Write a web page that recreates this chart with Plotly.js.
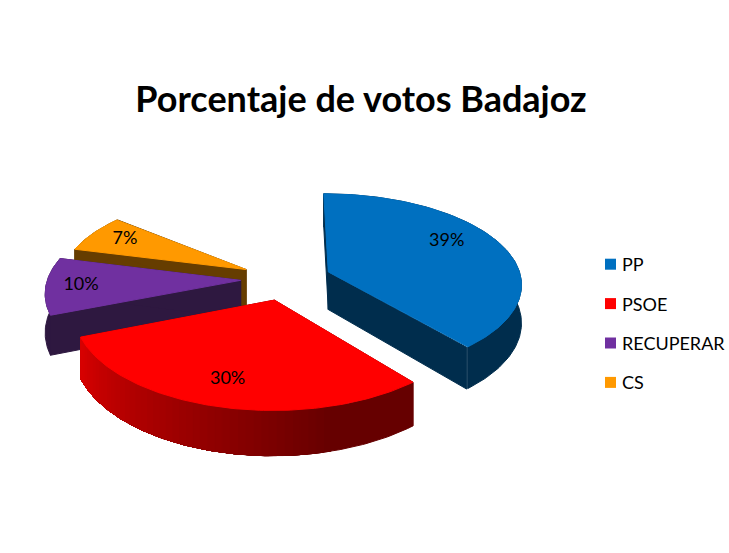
<!DOCTYPE html>
<html><head><meta charset="utf-8">
<script src="https://cdn.plot.ly/plotly-3.0.1.min.js"></script>
<style>html,body{margin:0;padding:0;background:#fff}#chart{width:729px;height:553px}</style>
</head><body><div id="chart"></div>
<script>
const categories = ["PP","PSOE","RECUPERAR","CS"];
const values = [39,30,10,7];           // percent of the whole; the remaining share is not drawn
const topColors = ["#0070c0","#ff0000","#7030a0","#ff9900"];
const wallColors = ["#002d4d","#660000","#2e1840","#663d00"];
const wallLight = ["#002d4d","#d80000","#2e1840","#663d00"];
const sliceReach = [1,1,1,0.96];
const labelAngle = [61,195.5,266,298];
const labelReach = [0.75,0.78,0.82,0.76];

// oblique projection of the pie's ground plane into the plot's axis units
const CX=286, CY=279, F=193, A=90, PX=0.12, PY=0.13, PULL=0.235, DEPTH=38, START=0;
const rad=d=>d*Math.PI/180;
function project(theta,r,mid){
  const X=r*Math.sin(rad(theta))+PULL*Math.sin(rad(mid));
  const Y=-(r*Math.cos(rad(theta))+PULL*Math.cos(rad(mid)));
  const sx=1/(1-PX*Y), sy=1/(1-PY*Y);
  return {x:CX+F*X*sx,y:CY+A*Y*sy,d:DEPTH*sy};
}
function hex(c){return [1,3,5].map(i=>parseInt(c.substr(i,2),16));}
function mix(a,b,t){const p=hex(a),q=hex(b);return "rgb("+p.map((v,i)=>Math.round(v+(q[i]-v)*t)).join(",")+")";}
function poly(xs,ys,color){
  return {type:"scatter",mode:"lines",x:xs,y:ys,fill:"toself",fillcolor:color,
    line:{color:color,width:1},hoverinfo:"skip",showlegend:false};
}
// outer wall between two angles, as one closed outline
function wallBand(a,b,R,mid,color){
  const xs=[],ys=[],bx=[],by=[];
  for(let t=a;t<=b+1e-6;t+=Math.min(1,b-a)||1){
    const p=project(t,R,mid);xs.push(p.x);ys.push(p.y);bx.unshift(p.x);by.unshift(p.y+p.d);
  }
  return poly(xs.concat(bx,[xs[0]]),ys.concat(by,[ys[0]]),color);
}
const traces=[];
const slices=[]; let acc=START;
values.forEach((v,i)=>{const a0=acc,a1=acc+v*3.6;slices.push({i,a0,a1,mid:(a0+a1)/2});acc=a1;});
// painter's order: farthest slices first, the front slice last
[3,2,0,1].forEach(k=>{
  const S=slices[k],c=wallColors[k],l=wallLight[k],R=sliceReach[k];
  const apex=project(0,0,S.mid);
  [S.a0,S.a1].forEach(a=>{
    const e=project(a,R,S.mid);
    traces.push(poly([apex.x,e.x,e.x,apex.x,apex.x],[apex.y,e.y,e.y+e.d,apex.y+apex.d,apex.y],c));
  });
  if(c===l){
    traces.push(wallBand(S.a0,S.a1,R,S.mid,c));
  }else{
    // shaded wall: each band runs under the next so no seam shows
    const step=2;
    traces.push(wallBand(S.a0,S.a1,R,S.mid,c));
    for(let a=165;a<S.a1-1e-6;a+=step){
      const t=Math.min(1,(a+step/2-165)/(S.a1-165));
      traces.push(wallBand(a,S.a1,R,S.mid,mix(c,l,t)));
    }
  }
  const xs=[apex.x],ys=[apex.y];
  for(let a=S.a0;a<=S.a1+1e-6;a+=1){const p=project(a,R,S.mid);xs.push(p.x);ys.push(p.y);}
  xs.push(apex.x);ys.push(apex.y);
  traces.push(poly(xs,ys,topColors[k]));
});
// percentage labels
const lab=slices.map(S=>project(labelAngle[S.i],labelReach[S.i],S.mid));
traces.push({type:"scatter",mode:"text",x:lab.map(p=>p.x),y:lab.map(p=>p.y),
  text:values.map(v=>v+"%"),textposition:"middle center",
  textfont:{family:"Lato, sans-serif",size:18,color:"#000"},hoverinfo:"skip",showlegend:false});
// legend entries
categories.forEach((n,i)=>traces.push({type:"scatter",mode:"markers",x:[null],y:[null],name:n,legendgroup:n,
  marker:{symbol:"square",size:11,color:topColors[i]},hoverinfo:"skip"}));

Plotly.newPlot("chart",traces,{
  width:729,height:553,margin:{l:0,r:0,t:0,b:0},paper_bgcolor:"#fff",plot_bgcolor:"#fff",
  title:{text:"<b>Porcentaje de votos Badajoz</b>",x:361/729,y:1-99/553,xanchor:"center",yanchor:"middle",
    font:{family:"Lato, sans-serif",size:36,color:"#000"}},
  xaxis:{range:[0,729],visible:false,fixedrange:true},
  yaxis:{range:[553,0],visible:false,fixedrange:true},
  showlegend:true,
  legend:{x:1,y:1-246/553,xanchor:"right",yanchor:"top",tracegroupgap:13,bgcolor:"rgba(0,0,0,0)",
    font:{family:"Lato, sans-serif",size:18,color:"#000"},itemclick:false,itemdoubleclick:false}
},{displayModeBar:false,staticPlot:true}).then(gd=>{
  // seat the legend: text starts at x=622, swatch close to the text
  const lg=gd.querySelector(".legend");
  const m=/translate\(\s*([-\d.]+)[ ,]+([-\d.]+)/.exec(lg.getAttribute("transform"));
  lg.setAttribute("transform","translate(582,"+m[2]+")");
  gd.querySelectorAll(".legendpoints").forEach(p=>p.setAttribute("transform","translate(8.5,0)"));
});
</script></body></html>
